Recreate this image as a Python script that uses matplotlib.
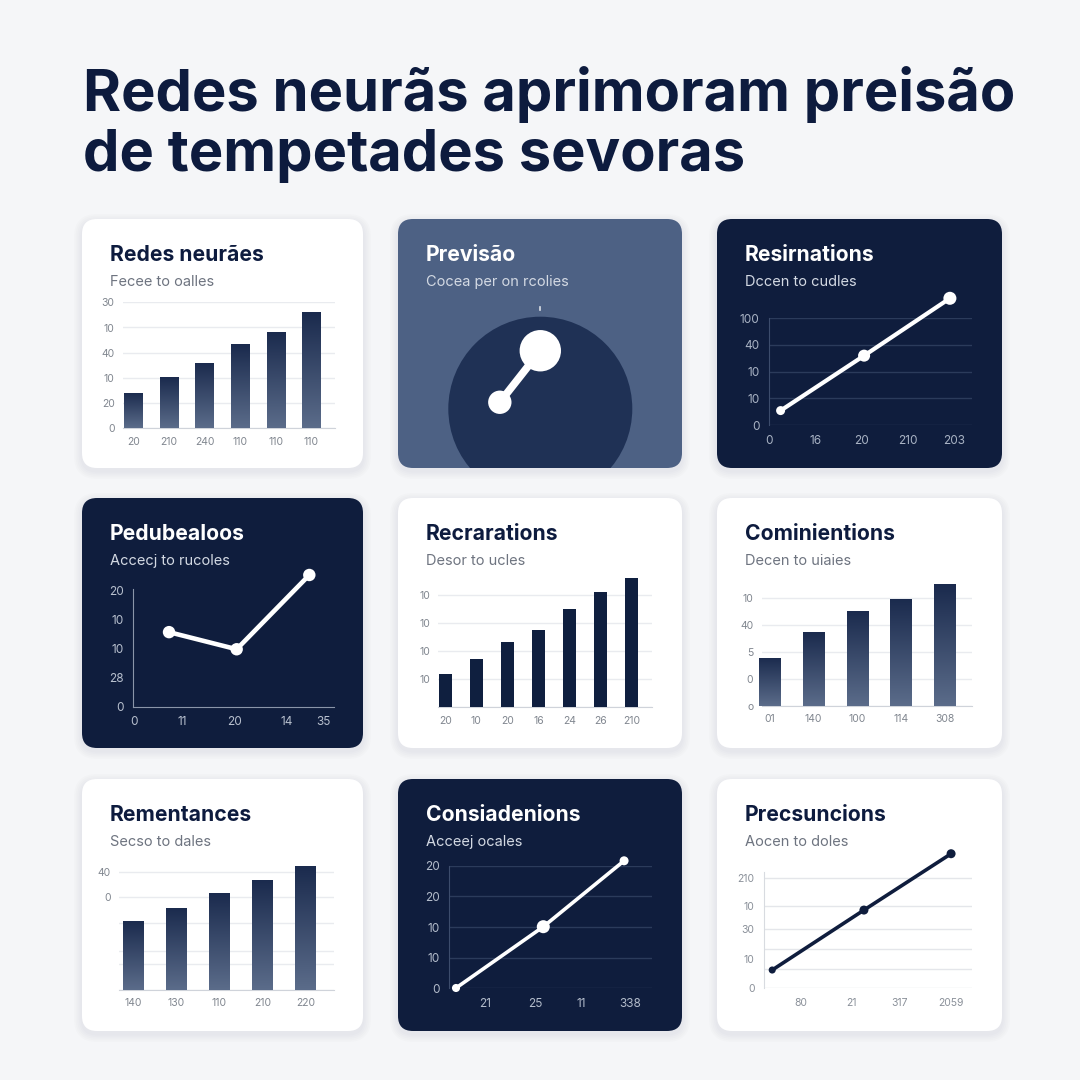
import numpy as np
import matplotlib
matplotlib.use("Agg")
import matplotlib.pyplot as plt
from matplotlib.patches import FancyBboxPatch, Circle
from matplotlib.colors import LinearSegmentedColormap

plt.rcParams['font.family'] = ['Inter', 'DejaVu Sans']

W = H = 1080
BG = "#f5f6f8"
NAVY = "#0f1d3d"
SLATE = "#4d6184"
DIAL = "#1f3155"

# ---- text ----
title_lines = ["Redes neurãs aprimoram preisão", "de tempetades sevoras"]
card_titles = ["Redes neurães", "Previsão", "Resirnations",
               "Pedubealoos", "Recrarations", "Cominientions",
               "Rementances", "Consiadenions", "Precsuncions"]
card_subtitles = ["Fecee to oalles", "Cocea per on rcolies", "Dccen to cudles",
                  "Accecj to rucoles", "Desor to ucles", "Decen to uiaies",
                  "Secso to dales", "Acceej ocales", "Aocen to doles"]
card_styles = ["light", "slate", "dark",
               "dark", "light", "light",
               "light", "dark", "light"]

# ---- card 1: bars ----
c1_labels = ["20", "210", "240", "110", "110", "110"]
c1_values = [14.2, 20.2, 26.1, 33.3, 38.4, 46.0]
c1_yticks = [0, 10, 20, 30, 40, 50]
c1_ylabels = ["0", "20", "10", "40", "10", "30"]

# ---- card 2: dial ----
needle_x = [-0.44, 0.0]
needle_y = [0.07, 0.63]

# ---- card 3: line ----
c3_x = [0.25, 2.05, 3.9]
c3_y = [5.4, 26.0, 47.5]
c3_xlabels = ["0", "16", "20", "210", "203"]
c3_yticks = [0, 10, 20, 30, 40]
c3_ylabels = ["0", "10", "10", "40", "100"]

# ---- card 4: line ----
c4_x = [17.8, 51.5, 87.7]
c4_y = [25.7, 19.8, 45.4]
c4_xticks = [0.3, 24.6, 50.2, 76.4, 94.7]
c4_xlabels = ["0", "11", "20", "14", "35"]
c4_yticks = [0, 10, 20, 30, 40]
c4_ylabels = ["0", "28", "10", "10", "20"]

# ---- card 5: bars ----
c5_labels = ["20", "10", "20", "16", "24", "26", "210"]
c5_values = [11.9, 17.1, 23.4, 27.4, 35.1, 40.9, 46.2]
c5_yticks = [0, 10, 20, 30, 40]
c5_ylabels = ["", "10", "10", "10", "10"]

# ---- card 6: bars ----
c6_labels = ["01", "140", "100", "114", "308"]
c6_values = [17.8, 27.3, 35.2, 39.7, 44.9]
c6_yticks = [0, 10, 20, 30, 40]
c6_ylabels = ["o", "0", "5", "40", "10"]

# ---- card 7: bars ----
c7_labels = ["140", "130", "110", "210", "220"]
c7_values = [26.7, 31.7, 37.4, 42.4, 47.7]
c7_yticks = [0, 10, 15, 25.6, 35.6, 45.5]
c7_ylabels = ["", "", "", "", "0", "40"]

# ---- card 8: line ----
c8_x = [3.3, 46.3, 86.1]
c8_y = [0.1, 20.1, 41.6]
c8_xticks = [17.6, 42.2, 65.2, 89.0]
c8_xlabels = ["21", "25", "11", "338"]
c8_yticks = [0, 10, 20, 30, 40]
c8_ylabels = ["0", "10", "10", "20", "20"]

# ---- card 9: line ----
c9_x = [3.8, 47.9, 89.8]
c9_y = [6.1, 26.1, 44.9]
c9_xticks = [17.6, 42.0, 64.8, 89.8]
c9_xlabels = ["80", "21", "317", "2059"]
c9_grid = [0, 6.3, 13.0, 19.7, 27.5, 36.9]
c9_yticks = [0, 9.8, 19.7, 27.5, 36.9]
c9_ylabels = ["0", "10", "30", "10", "210"]

col_x = [82, 398, 717]
col_w = [281, 284, 285]
row_y = [219, 498, 779]
row_h = [249, 250, 252]

fig = plt.figure(figsize=(10.8, 10.8), dpi=100)
fig.patch.set_facecolor(BG)
bg = fig.add_axes([0, 0, 1, 1])
bg.set_xlim(0, W)
bg.set_ylim(H, 0)
bg.axis('off')

for i, line in enumerate(title_lines):
    bg.text(83, 111 + 60 * i, line, fontsize=41.7, fontweight='bold',
            color="#0d1b3e", va='baseline', ha='left')

card_patches = []
for k in range(9):
    r, c = divmod(k, 3)
    x, y, w, h = col_x[c], row_y[r], col_w[c], row_h[r]
    # soft shadow
    for s in range(1, 6):
        bg.add_patch(FancyBboxPatch((x - s * 1.6, y - s * 1.6 + 3), w + s * 3.2, h + s * 3.2,
                                    boxstyle=f"round,pad=0,rounding_size={15 + s * 1.6}",
                                    fc="#1b2a4a", ec='none', alpha=0.013))
    fc = {"light": "white", "dark": NAVY, "slate": SLATE}[card_styles[k]]
    p = FancyBboxPatch((x, y), w, h, boxstyle="round,pad=0,rounding_size=15",
                       fc=fc, ec='none')
    bg.add_patch(p)
    card_patches.append(p)
    light = card_styles[k] == "light"
    bg.text(x + 28, y + 42, card_titles[k], fontsize=15.2, fontweight='bold',
            color="#0d1b3e" if light else "white", va='baseline')
    bg.text(x + 28, y + 67, card_subtitles[k], fontsize=10.5,
            color="#6e7480" if light else "#d3d9e3", va='baseline')


def px_axes(x0, x1, ytop, ybot):
    ax = fig.add_axes([x0 / W, 1 - ybot / H, (x1 - x0) / W, (ybot - ytop) / H])
    ax.set_facecolor('none')
    for s in ax.spines.values():
        s.set_visible(False)
    return ax


bar_cmap = LinearSegmentedColormap.from_list("bar", ["#1a2a4d", "#5b6c8a"])
grad = np.linspace(0, 1, 256).reshape(-1, 1)


def bar_panel(ax, labels, values, width, xlim, ylim, yticks, ylabels,
              gradient=True):
    x = np.arange(len(values))
    bars = ax.bar(x, values, width=width, color="#0f1f3f", zorder=3)
    if gradient:
        for b in bars:
            im = ax.imshow(grad, extent=[b.get_x(), b.get_x() + b.get_width(), 0, b.get_height()],
                           cmap=bar_cmap, aspect='auto', zorder=4)
            im.set_clip_path(b)
    ax.set_xlim(*xlim)
    ax.set_ylim(*ylim)
    ax.set_xticks(x, labels)
    ax.set_yticks(yticks, ylabels)
    ax.yaxis.grid(True, color="#e9ebef", lw=1)
    ax.set_axisbelow(True)
    ax.spines['bottom'].set_visible(True)
    ax.spines['bottom'].set_color("#cfd3da")
    ax.tick_params(length=0, labelsize=7.5, colors="#80868f", pad=6)


def line_panel(ax, xs, ys, sizes, lw, color, xlim, ylim, xticks, xlabels,
               yticks, ylabels, tick_color, grid_color, spine_color, fs=8.5):
    ax.plot(xs, ys, color=color, lw=lw, zorder=3, clip_on=False,
            solid_capstyle='round')
    ax.scatter(xs, ys, s=sizes, color=color, zorder=4, clip_on=False, lw=0)
    ax.set_xlim(*xlim)
    ax.set_ylim(*ylim)
    ax.set_xticks(xticks, xlabels)
    ax.set_yticks(yticks, ylabels)
    if grid_color:
        ax.yaxis.grid(True, color=grid_color, lw=1)
    ax.set_axisbelow(True)
    ax.spines['left'].set_visible(True)
    ax.spines['left'].set_color(spine_color)
    ax.tick_params(length=0, labelsize=fs, colors=tick_color, pad=7)


# card 1
ax1 = px_axes(123, 335, 302.3, 428.3)
bar_panel(ax1, c1_labels, c1_values, 0.51, (-0.29, 5.67), (0, 50), c1_yticks, c1_ylabels)

# card 2 dial
ax2 = px_axes(398, 682, 219, 468)
ax2.set_xlim((398 - 540.3) / 92, (682 - 540.3) / 92)
ax2.set_ylim((408.7 - 468) / 92, (408.7 - 219) / 92)
ax2.set_xticks([])
ax2.set_yticks([])
dial = Circle((0, 0), 1, fc=DIAL, ec='none')
ax2.add_patch(dial)
dial.set_clip_path(card_patches[1])
ax2.plot(needle_x, needle_y, color="white", lw=5.5, solid_capstyle='round', zorder=3)
ax2.add_patch(Circle((needle_x[0], needle_y[0]), 0.127, fc="white", ec='none', zorder=4))
ax2.add_patch(Circle((needle_x[1], needle_y[1]), 0.225, fc="white", ec='none', zorder=4))
ax2.plot([0, 0], [1.07, 1.10], color="white", lw=1.2, alpha=0.8)

# card 3
ax3 = px_axes(769, 971.7, 318.3, 425)
line_panel(ax3, c3_x, c3_y, [42, 75, 88], 3.0, "white", (0, 4.37), (0, 40),
           range(5), c3_xlabels, c3_yticks, c3_ylabels,
           "#a9b3c4", "#2b3b5b", "#3c4c6c")

# card 4
ax4 = px_axes(133.3, 334, 589.2, 706.7)
line_panel(ax4, c4_x, c4_y, [80, 80, 80], 3.3, "white", (0, 100), (0, 40.5),
           c4_xticks, c4_xlabels, c4_yticks, c4_ylabels,
           "#b8c0ce", None, "#8a95a9")
ax4.spines['bottom'].set_visible(True)
ax4.spines['bottom'].set_color("#8a95a9")

# card 5
ax5 = px_axes(438.3, 651.7, 575.3, 707.3)
bar_panel(ax5, c5_labels, c5_values, 0.42, (-0.22, 6.64), (0, 47), c5_yticks, c5_ylabels,
          gradient=False)

# card 6
ax6 = px_axes(761.7, 972.3, 581.5, 705.7)
bar_panel(ax6, c6_labels, c6_values, 0.49, (-0.18, 4.62), (0, 46), c6_yticks, c6_ylabels)

# card 7
ax7 = px_axes(119.3, 334.3, 862.6, 990)
bar_panel(ax7, c7_labels, c7_values, 0.47, (-0.33, 4.67), (0, 49), c7_yticks, c7_ylabels)

# card 8
ax8 = px_axes(449.3, 652.3, 865.7, 988.3)
line_panel(ax8, c8_x, c8_y, [34, 88, 42], 2.6, "white", (0, 100), (0, 40),
           c8_xticks, c8_xlabels, c8_yticks, c8_ylabels,
           "#b3bccb", "#2b3b5b", "#3c4c6c")

# card 9
ax9 = px_axes(764.3, 972.3, 871.7, 988.3)
line_panel(ax9, c9_x, c9_y, [26, 42, 42], 2.6, NAVY, (0, 100), (0, 38.9),
           c9_xticks, c9_xlabels, c9_yticks, c9_ylabels,
           "#8a9099", None, "#d8dbe0", fs=7.5)
for g in c9_grid:
    ax9.axhline(g, color="#e4e6ea", lw=1, zorder=1)

fig.savefig("out.png", dpi=100, facecolor=BG)
